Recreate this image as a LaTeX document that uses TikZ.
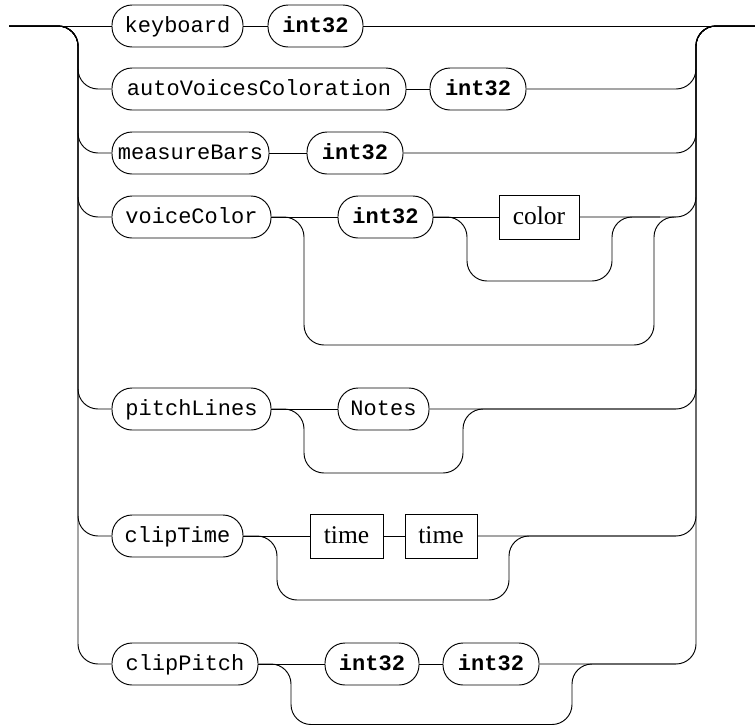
\documentclass[tikz,border=0pt]{standalone}
\usepackage{fontspec}
\setmainfont{Liberation Serif}
\setmonofont{Liberation Mono}
\begin{document}
\begin{tikzpicture}[x=1pt,y=-1pt,line width=0.95pt,
  term/.style={draw, rounded corners=20pt, minimum height=42pt, inner sep=0pt,
    font=\fontsize{22}{26}\selectfont\ttfamily, text height=16pt, text depth=3.5pt},
  kw/.style={term, font=\fontsize{22}{26}\selectfont\ttfamily\bfseries},
  nt/.style={draw, minimum height=44pt, inner sep=0pt,
    font=\fontsize{25.5}{30}\selectfont, text height=19pt, text depth=5pt},
  rr/.style={rounded corners=20pt}]
\useasboundingbox[fill=white] (0,0) rectangle (755,726);
\coordinate (start) at (9,26);
\coordinate (end) at (755,26);
% nodes
\node[term, minimum width=131pt] (kb)  at (177.5,26) {keyboard};
\node[kw,   minimum width=95pt]  (kbi) at (315.5,26) {int32};
\node[term, minimum width=294pt] (av)  at (259,89) {autoVoicesColoration};
\node[kw,   minimum width=96pt]  (avi) at (478,89) {int32};
\node[term, minimum width=157pt] (mb)  at (190.5,153) {measureBars};
\node[kw,   minimum width=96pt]  (mbi) at (355,153) {int32};
\node[term, minimum width=159pt] (vc)  at (191.5,217) {voiceColor};
\node[kw,   minimum width=95pt]  (vci) at (385.5,217) {int32};
\node[nt,   minimum width=80pt]  (col) at (539,217) {color};
\node[term, minimum width=159pt] (pl)  at (191.5,409) {pitchLines};
\node[term, minimum width=91pt]  (notes) at (383.5,409) {Notes};
\node[term, minimum width=131pt] (ct)  at (177.5,536) {clipTime};
\node[nt,   minimum width=73pt]  (t1)  at (346.5,536) {time};
\node[nt,   minimum width=72pt]  (t2)  at (441,536) {time};
\node[term, minimum width=146pt] (cp)  at (185,664) {clipPitch};
\node[kw,   minimum width=94pt]  (cpa) at (372,664) {int32};
\node[kw,   minimum width=96pt]  (cpb) at (491,664) {int32};
% keyboard row (main line)
\draw (start) -- (kb.west);
\draw (kb.east) -- (kbi.west);
\draw (kbi.east) -- (end);
% left bus
\draw[rr] (start) -| (78,89) -- (av.west);
\draw[rr] (start) -| (78,153) -- (mb.west);
\draw[rr] (start) -| (78,217) -- (vc.west);
\draw[rr] (start) -| (78,409) -- (pl.west);
\draw[rr] (start) -| (78,536) -- (ct.west);
\draw[rr] (start) -| (78,664) -- (cp.west);
% autoVoicesColoration
\draw (av.east) -- (avi.west);
\draw[rr] (avi.east) -| (696,26) -- (end);
% measureBars
\draw (mb.east) -- (mbi.west);
\draw[rr] (mbi.east) -| (696,26) -- (end);
% voiceColor
\draw (vc.east) -- (vci.west);
\draw (vci.east) -- (col.west);
\draw[rr] (vci.east) -| (467,281) -| (612,217) -- (660,217);
\draw[rr] (vc.east) -| (304,345) -| (654,217) -- (676,217);
\draw[rr] (col.east) -| (696,26) -- (end);
% pitchLines
\draw (pl.east) -- (notes.west);
\draw[rr] (pl.east) -| (304,473) -| (463,409) -- (676,409);
\draw[rr] (notes.east) -| (696,26) -- (end);
% clipTime
\draw (ct.east) -- (t1.west);
\draw (t1.east) -- (t2.west);
\draw[rr] (ct.east) -| (277,600) -| (509,536) -- (676,536);
\draw[rr] (t2.east) -| (696,26) -- (end);
% clipPitch
\draw (cp.east) -- (cpa.west);
\draw (cpa.east) -- (cpb.west);
\draw[rr] (cp.east) -| (291,724.5) -| (572,664) -- (676,664);
\draw[rr] (cpb.east) -| (696,26) -- (end);
\end{tikzpicture}
\end{document}
